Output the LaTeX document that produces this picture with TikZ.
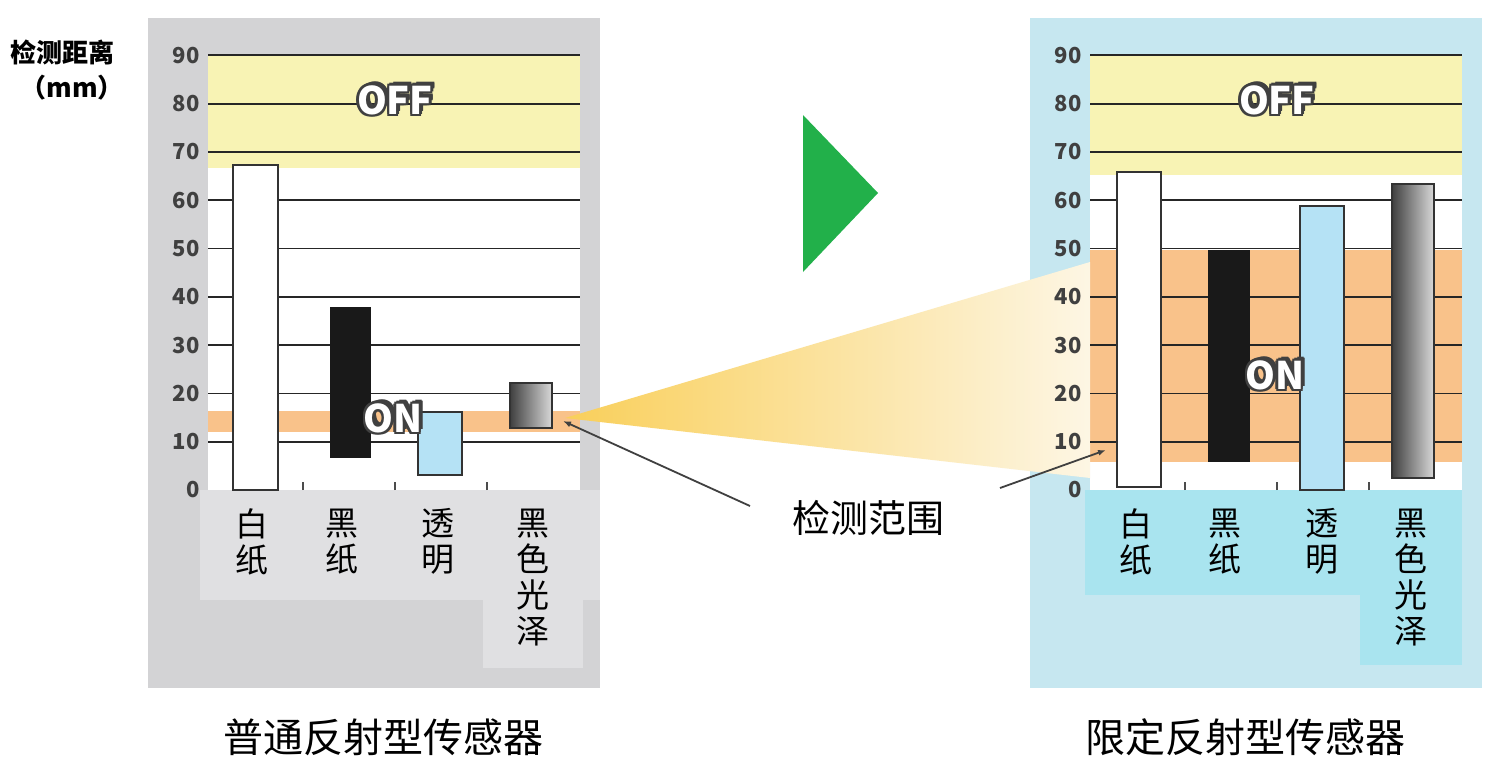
\documentclass[tikz,border=0pt]{standalone}
\usepackage{fontspec}
\setmainfont{Noto Sans CJK SC}
\usetikzlibrary{arrows.meta}
\definecolor{pgray}{HTML}{D3D3D5}
\definecolor{pblue}{HTML}{C6E7F0}
\definecolor{lcyan}{HTML}{A9E4EF}
\definecolor{yband}{HTML}{F8F3B4}
\definecolor{oband}{HTML}{F9C28A}
\definecolor{bblue}{HTML}{B5E2F5}
\definecolor{tri}{HTML}{22B04A}
\definecolor{beamc}{HTML}{F9CF5A}
\definecolor{beamr}{HTML}{FDF6E4}
\tikzset{x=1pt,y=-1pt,
 tick/.style={font=\bfseries\fontsize{22}{22}\selectfont,text=black!75,anchor=east},
 cat/.style={font=\fontsize{33}{36}\selectfont,align=center,anchor=north},
 ttl/.style={font=\fontsize{40}{40}\selectfont},
 barw/.style={draw=black!80,line width=2pt,fill=white},
 grid/.style={black!85,line width=1.8pt}}
\newcommand{\outl}[3]{%
 \foreach \dx/\dy in {-2.5/0,2.5/0,0/-2.5,0/2.5,-2/-2,2/2,-2/2,2/-2,3.5/3.5,4/2.5}{
  \node[font=\bfseries\fontsize{38}{38}\selectfont,text=black!75] at ([xshift=\dx pt,yshift=\dy pt]#1,#2) {#3};}
 \node[font=\bfseries\fontsize{38}{38}\selectfont,text=white] at (#1,#2) {#3};}
\begin{document}
\begin{tikzpicture}
\useasboundingbox[fill=white] (0,0) rectangle (1497,774);
% left panel
\fill[pgray] (148,18) rectangle (600,688);
\fill[white] (208,55) rectangle (580,490);
\fill[yband] (208,55) rectangle (580,168);
\fill[oband] (208,411) rectangle (580,432);
\foreach \k in {1,...,9}{
 \pgfmathsetmacro\yy{490-48.3*\k}
 \node[tick] (lt\k) at (203,\yy) {\k0};
 \draw[grid] (208,\yy) -- (580,\yy);}
\node[tick] (lt0) at (203,490) {0};
\fill[pgray!70!white] (200,490) rectangle (600,600);
\fill[pgray!70!white] (483,600) rectangle (583,668);
\foreach \xx in {303,395,487}{\draw[black!70,line width=1.5pt] (\xx,490)--(\xx,482);}
\draw[barw] (233,165) rectangle (278,490);
\fill[black!90] (330,307) rectangle (371,458);
\draw[barw,fill=bblue] (418,412) rectangle (462,475);
\draw[barw,left color=black!75,right color=black!15] (510,383) rectangle (552,428);
\outl{395}{100}{OFF}
\outl{393}{418}{ON}
\node[cat] (l1) at (252,505) {白\\纸};
\node[cat] (l2) at (342,505) {黑\\纸};
\node[cat] (l3) at (438,505) {透\\明};
\node[cat] (l4) at (533,505) {黑\\色\\光\\泽};
% right panel
\fill[pblue] (1030,18) rectangle (1482,688);
\fill[white] (1090,55) rectangle (1462,490);
\fill[yband] (1090,55) rectangle (1462,175);
\fill[oband] (1090,250) rectangle (1462,462);
% beam
\shade[left color=beamc,right color=beamr] (565,418) -- (1090,262) -- (1090,478) -- cycle;
\foreach \k in {1,...,9}{
 \pgfmathsetmacro\yy{490-48.3*\k}
 \node[tick] (rt\k) at (1085,\yy) {\k0};
 \draw[grid] (1090,\yy) -- (1462,\yy);}
\node[tick] (rt0) at (1085,490) {0};
\fill[lcyan] (1085,490) rectangle (1462,595);
\fill[lcyan] (1360,595) rectangle (1462,665);
\foreach \xx in {1185,1277,1369}{\draw[black!70,line width=1.5pt] (\xx,490)--(\xx,482);}
\draw[barw] (1117,172) rectangle (1161,487);
\fill[black!90] (1208,250) rectangle (1250,462);
\draw[barw,fill=bblue] (1300,206) rectangle (1344,490);
\draw[barw,left color=black!75,right color=black!15] (1392,184) rectangle (1434,478);
\outl{1277}{100}{OFF}
\outl{1275}{375}{ON}
\node[cat] (r1) at (1136,505) {白\\纸};
\node[cat] (r2) at (1225,505) {黑\\纸};
\node[cat] (r3) at (1322,505) {透\\明};
\node[cat] (r4) at (1411,505) {黑\\色\\光\\泽};
% arrow
\fill[tri] (803,115) -- (878,193) -- (803,272) -- cycle;
% labels
\node[font=\bfseries\fontsize{26}{26}\selectfont] (ax1) at (62,52) {检测距离};
\node[font=\bfseries\fontsize{26}{26}\selectfont] (ax2) at (72,88) {（mm）};
\node[font=\fontsize{38}{38}\selectfont] (rng) at (868,518) {检测范围};
\coordinate (p1) at (563,421);
\coordinate (p2) at (1106,450);
\draw[black!75,line width=1.8pt,-{Latex[length=8pt]}] (750,506) -- (p1);
\draw[black!75,line width=1.8pt,-{Latex[length=8pt]}] (1000,488) -- (p2);
\node[ttl] (t1) at (383,737) {普通反射型传感器};
\node[ttl] (t2) at (1245,737) {限定反射型传感器};
\end{tikzpicture}
\end{document}
